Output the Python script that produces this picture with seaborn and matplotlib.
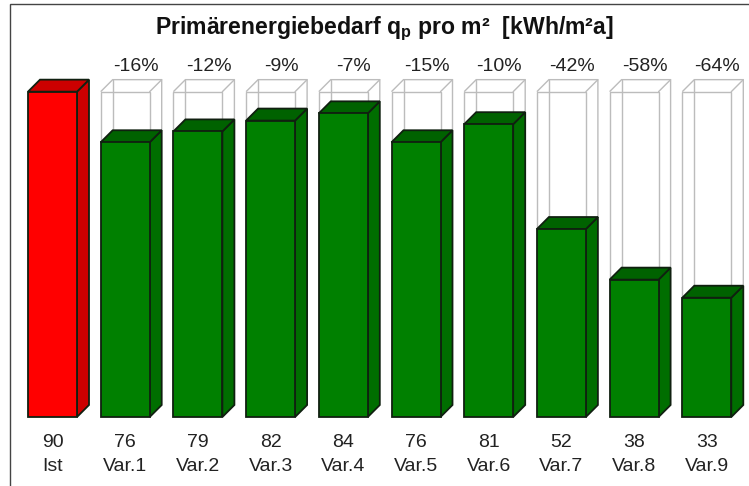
#!/usr/bin/env python
# -*- coding: utf-8 -*-
import pandas as pd
import seaborn as sns
import matplotlib
matplotlib.use("Agg")
import matplotlib.pyplot as plt
from matplotlib.patches import Polygon, Rectangle

categories = ['Ist', 'Var.1', 'Var.2', 'Var.3', 'Var.4', 'Var.5', 'Var.6', 'Var.7', 'Var.8', 'Var.9']
values = [90, 76, 79, 82, 84, 76, 81, 52, 38, 33]
changes = ['', '-16%', '-12%', '-9%', '-7%', '-15%', '-10%', '-42%', '-58%', '-64%']
reference = 90

# Pixelmasse der Vorlage
W, H = 749, 486
X0, STEP = 52.5, 72.7
Y0, SCALE = 417, 3.615
BAR_W = 49 / STEP
DX, DY = 12 / STEP, 12 / SCALE

sns.set_theme(style='white')
plt.rcParams['font.family'] = ['Liberation Sans', 'DejaVu Sans']
plt.rcParams['mathtext.fontset'] = 'custom'
plt.rcParams['mathtext.rm'] = 'Liberation Sans:bold'

fig = plt.figure(figsize=(W / 100, H / 100), dpi=100, facecolor='white')
ax = fig.add_axes([0, 0, 1, 1])

df = pd.DataFrame({'cat': categories, 'val': values})
sns.barplot(data=df, x='cat', y='val', hue='cat', palette=['#ff0000'] + ['#008000'] * 9,
            width=BAR_W, legend=False, saturation=1, edgecolor='#102010', linewidth=1.3,
            zorder=4, ax=ax)

ax.set_xlim(-X0 / STEP, (W - X0) / STEP)
ax.set_ylim(-(H - Y0) / SCALE, Y0 / SCALE)
ax.axis('off')

GHOST = '#bcbcbc'
for i, (v, c) in enumerate(zip(values, changes)):
    l, r = i - BAR_W / 2, i + BAR_W / 2
    side = '#cc0000' if i == 0 else '#006e00'
    top = '#cc0000' if i == 0 else '#006200'

    # Referenzquader (Ist-Wert) hinter den Varianten
    if i > 0:
        ax.add_patch(Polygon([(l, v), (l, reference), (r, reference), (r, v)], closed=False,
                             fill=False, ec=GHOST, lw=1, zorder=1))
        ax.add_patch(Polygon([(l, reference), (l + DX, reference + DY), (r + DX, reference + DY),
                              (r + DX, v + DY)], closed=False, fill=False, ec=GHOST, lw=1, zorder=1))
        ax.plot([l + DX, l + DX], [v + DY, reference + DY], color=GHOST, lw=1, zorder=1)
        ax.plot([r, r + DX], [reference, reference + DY], color=GHOST, lw=1, zorder=1)

    # Seiten- und Deckflaeche
    ax.add_patch(Polygon([(r, 0), (r + DX, DY), (r + DX, v + DY), (r, v)], fc=side,
                         ec='#102010', lw=1.3, zorder=3))
    ax.add_patch(Polygon([(l, v), (l + DX, v + DY), (r + DX, v + DY), (r, v)], fc=top,
                         ec='#102010', lw=1.3, zorder=3))

    ax.text(i, -(442.5 - Y0) / SCALE, str(v), ha='center', va='center', fontsize=14, color='#222222')
    ax.text(i, -(466 - Y0) / SCALE, categories[i], ha='center', va='center', fontsize=14, color='#222222')
    if c:
        ax.text(i + 0.145, (Y0 - 66.5) / SCALE, c, ha='center', va='center', fontsize=14, color='#222222')

ax.text((384.5 - X0) / STEP, (Y0 - 34) / SCALE, r'Primärenergiebedarf q$_{\mathregular{p}}$ pro m²  [kWh/m²a]',
        ha='center', va='baseline', fontsize=16.6, fontweight='bold', color='#111111')

# Rahmen
fig.add_artist(Rectangle((10 / W, -0.1), 2, 1.1 - 4 / H, transform=fig.transFigure, fill=False,
                         ec='#444444', lw=1))

fig.savefig('out.png', dpi=100)
